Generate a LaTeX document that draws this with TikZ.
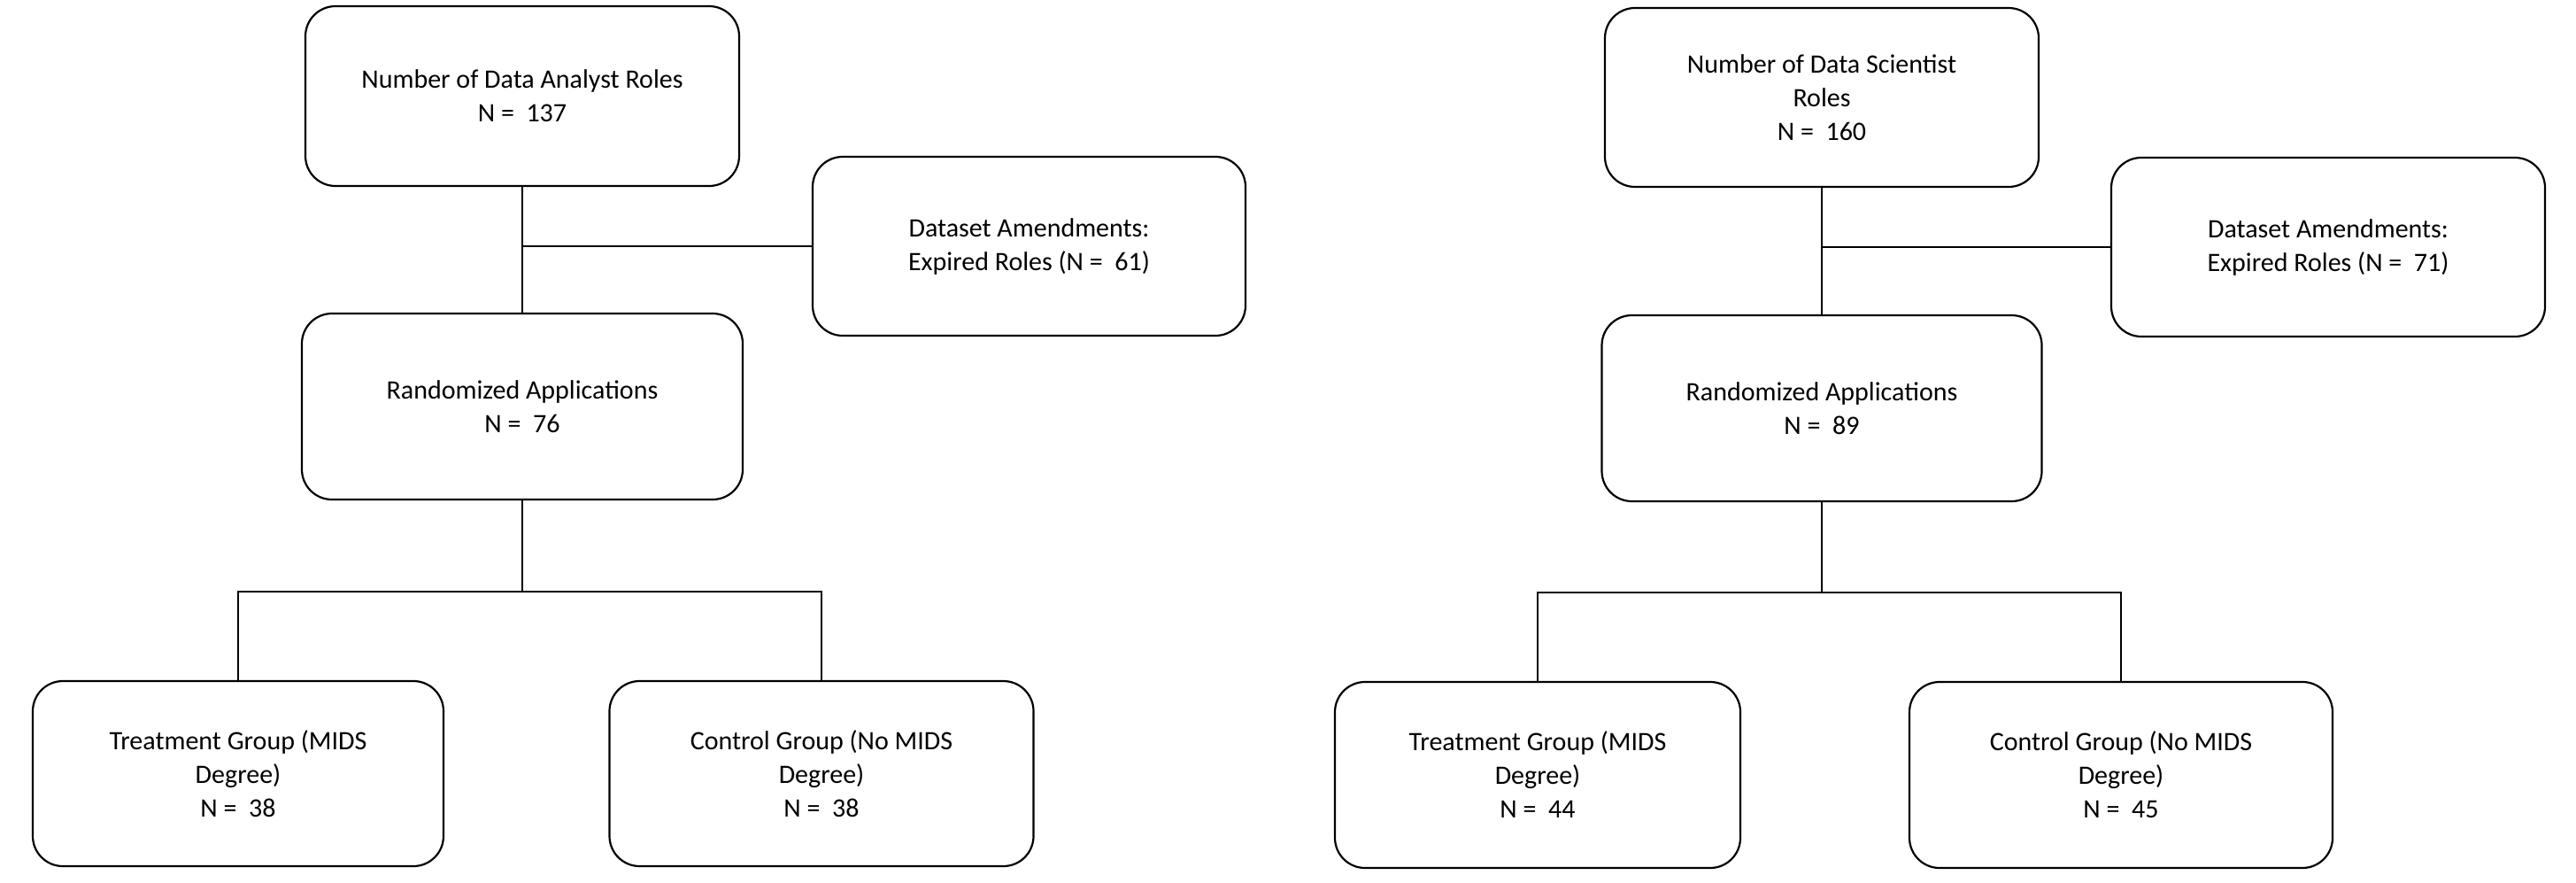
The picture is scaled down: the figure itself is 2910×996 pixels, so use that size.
\documentclass[tikz,border=0pt]{standalone}
\usepackage{fontspec}
\setmainfont{Carlito}
\begin{document}
\begin{tikzpicture}[x=1pt,y=-1pt,
  box/.style={draw=black, line width=2.2pt, rounded corners=34pt, align=center,
    inner sep=0pt, font=\fontsize{30}{38}\selectfont},
  conn/.style={draw=black, line width=1.2pt}]
\useasboundingbox (0,0) rectangle (2910,996);
% left chart
\node[box, minimum width=490pt, minimum height=203pt] (top1) at (590,108.5) {Number of Data Analyst Roles\\N =\ \ 137};
\node[box, minimum width=489pt, minimum height=202pt] (amend1) at (1162.5,278) {Dataset Amendments:\\Expired Roles (N =\ \ 61)};
\node[box, minimum width=498pt, minimum height=210pt] (rand1) at (590,459) {Randomized Applications\\N =\ \ 76};
\node[box, minimum width=464pt, minimum height=209pt] (treat1) at (269,873.5) {Treatment Group (MIDS\\Degree)\\N =\ \ 38};
\node[box, minimum width=479pt, minimum height=209pt] (ctrl1) at (928,873.5) {Control Group (No MIDS\\Degree)\\N =\ \ 38};
\coordinate (j1) at (590,668);
\draw[conn] (top1.south) -- (rand1.north);
\draw[conn] (amend1.west) -- (amend1.west -| top1.south);
\draw[conn] (rand1.south) -- (j1);
\draw[conn] (treat1.north) |- (j1) -| (ctrl1.north);
% right chart
\node[box, minimum width=490pt, minimum height=202pt] (top2) at (2058,110) {Number of Data Scientist\\Roles\\N =\ \ 160};
\node[box, minimum width=490pt, minimum height=202pt] (amend2) at (2630,279) {Dataset Amendments:\\Expired Roles (N =\ \ 71)};
\node[box, minimum width=497pt, minimum height=210pt] (rand2) at (2058,461) {Randomized Applications\\N =\ \ 89};
\node[box, minimum width=458pt, minimum height=210pt] (treat2) at (1737,875) {Treatment Group (MIDS\\Degree)\\N =\ \ 44};
\node[box, minimum width=478pt, minimum height=210pt] (ctrl2) at (2396,875) {Control Group (No MIDS\\Degree)\\N =\ \ 45};
\coordinate (j2) at (2058,669);
\draw[conn] (top2.south) -- (rand2.north);
\draw[conn] (amend2.west) -- (amend2.west -| top2.south);
\draw[conn] (rand2.south) -- (j2);
\draw[conn] (treat2.north) |- (j2) -| (ctrl2.north);
\end{tikzpicture}
\end{document}
